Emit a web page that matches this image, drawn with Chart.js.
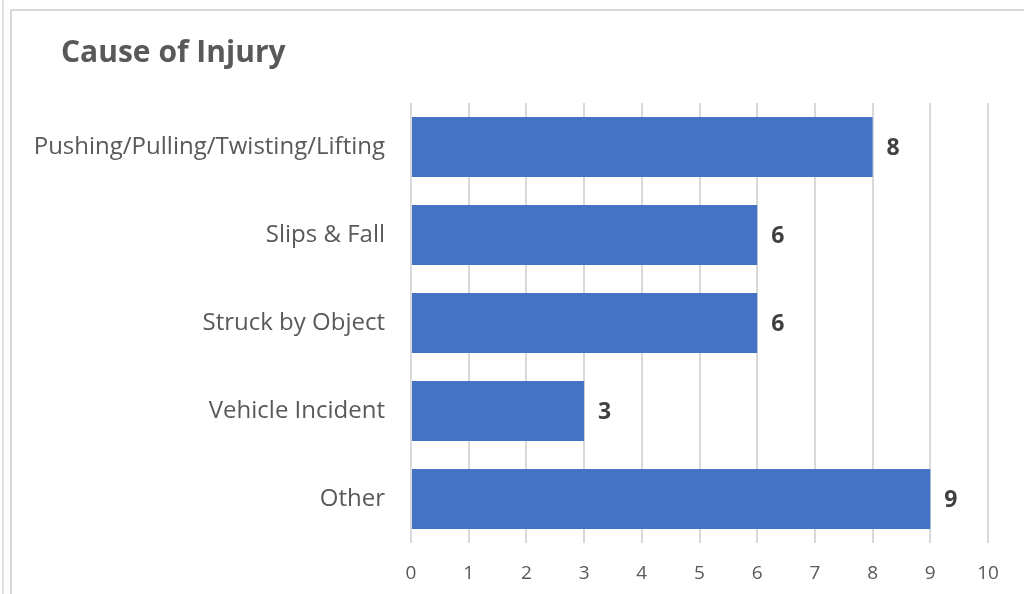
<!DOCTYPE html>
<html>
<head>
<meta charset="utf-8">
<script src="https://cdn.jsdelivr.net/npm/chart.js@4.4.0/dist/chart.umd.min.js"></script>
<style>
  html, body { margin: 0; padding: 0; background: #fff; overflow: hidden; }
  #wrap { position: relative; width: 1024px; height: 594px; }
  #frame { position: absolute; left: 10px; top: 9px; width: 1100px; height: 700px; border: 2px solid #d9d9d9; box-sizing: border-box; }
  #edge { position: absolute; left: 2px; top: 0; width: 2px; height: 594px; background: #e0e0e0; }
  canvas { position: absolute; left: 0; top: 0; }
</style>
</head>
<body>
<div id="wrap">
  <div id="edge"></div>
  <div id="frame"></div>
  <canvas id="chart" width="1024" height="594"></canvas>
</div>
<script>
// ── Data ──
const causes = ['Pushing/Pulling/Twisting/Lifting', 'Slips & Fall', 'Struck by Object', 'Vehicle Incident', 'Other'];
const injuryCounts = [8, 6, 6, 3, 9];
const xTicks = [0, 1, 2, 3, 4, 5, 6, 7, 8, 9, 10];

const FONT = "'Open Sans', 'Noto Sans', sans-serif";

// title drawn at a fixed spot, like the office chart
const titlePlugin = {
  id: 'fixedTitle',
  afterDraw(chart) {
    const ctx = chart.ctx;
    ctx.save();
    ctx.font = 'bold 30px ' + FONT;
    ctx.fillStyle = '#595959';
    ctx.textBaseline = 'alphabetic';
    ctx.textAlign = 'left';
    ctx.fillText('Cause of Injury', 61, 62);
    ctx.restore();
  }
};

// value labels at the bar ends
const valueLabels = {
  id: 'valueLabels',
  afterDatasetsDraw(chart) {
    const ctx = chart.ctx;
    const meta = chart.getDatasetMeta(0);
    ctx.save();
    ctx.font = 'bold 23px ' + FONT;
    ctx.fillStyle = '#404040';
    ctx.textBaseline = 'middle';
    ctx.textAlign = 'left';
    meta.data.forEach((bar, i) => {
      ctx.fillText(String(injuryCounts[i]), bar.x + 14, bar.y + 1);
    });
    ctx.restore();
  }
};

new Chart(document.getElementById('chart').getContext('2d'), {
  type: 'bar',
  data: {
    labels: causes,
    datasets: [{
      data: injuryCounts,
      backgroundColor: '#4472C4',
      borderWidth: 0,
      barPercentage: 0.68,
      categoryPercentage: 1
    }]
  },
  options: {
    indexAxis: 'y',
    responsive: false,
    animation: false,
    layout: { padding: { top: 103, right: 36, left: 0, bottom: 0 } },
    plugins: {
      legend: { display: false },
      title: { display: false },
      tooltip: { enabled: false }
    },
    scales: {
      x: {
        min: 0,
        max: 10,
        afterBuildTicks(scale) { scale.ticks = xTicks.map(v => ({ value: v })); },
        afterFit(scale) { scale.height = 51; },
        border: { display: false },
        grid: { color: '#d9d9d9', lineWidth: 2, drawTicks: false },
        ticks: { color: '#595959', font: { family: FONT, size: 19 }, padding: 19 }
      },
      y: {
        border: { display: false },
        grid: { display: false, drawTicks: false },
        afterFit(scale) { scale.width = 411; },
        ticks: { color: '#595959', font: { family: FONT, size: 24 }, padding: 26 }
      }
    }
  },
  plugins: [titlePlugin, valueLabels]
});
</script>
</body>
</html>
